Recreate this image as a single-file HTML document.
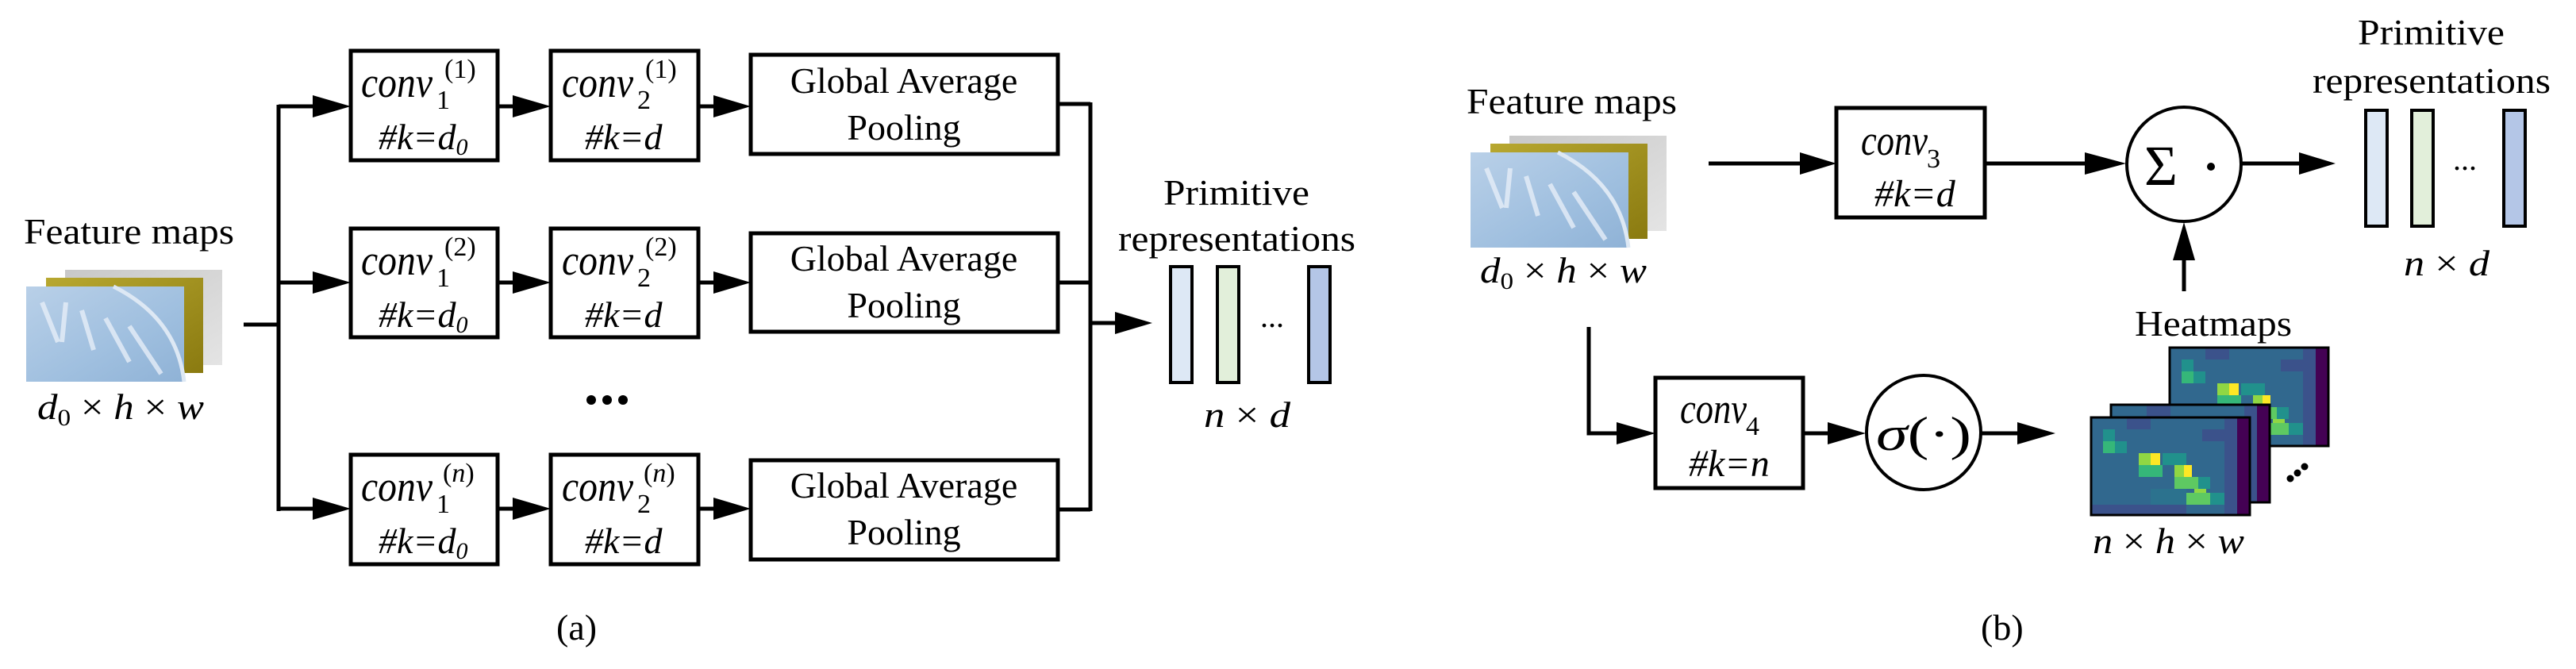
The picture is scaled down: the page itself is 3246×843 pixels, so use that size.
<!DOCTYPE html>
<html><head><meta charset="utf-8"><style>
html,body{margin:0;padding:0;background:#fff;}
svg{display:block;font-family:"Liberation Serif","DejaVu Serif","Times New Roman",serif;}
svg text{font-family:"Liberation Serif","DejaVu Serif","Times New Roman",serif;fill:#000;}
.it{font-style:italic;}
</style></head><body>
<svg width="3246" height="843" viewBox="0 0 3246 843" xmlns="http://www.w3.org/2000/svg" font-family="Liberation Serif, DejaVu Serif, serif">
<defs>
<linearGradient id="gb" x1="0" y1="0" x2="1" y2="1"><stop offset="0" stop-color="#b9d0e8"/><stop offset="0.6" stop-color="#9fbfdf"/><stop offset="1" stop-color="#8fb2d6"/></linearGradient>
<linearGradient id="gy" x1="0" y1="0" x2="1" y2="1"><stop offset="0" stop-color="#b8a830"/><stop offset="1" stop-color="#8a7a10"/></linearGradient>
<linearGradient id="gg" x1="0" y1="0" x2="1" y2="1"><stop offset="0" stop-color="#c8c8c8"/><stop offset="1" stop-color="#e4e4e4"/></linearGradient>
<g id="fm">
<rect x="49" y="-21" width="198" height="120" fill="url(#gg)"/>
<rect x="25" y="-11" width="198" height="120" fill="url(#gy)"/>
<rect x="0" y="0" width="199" height="120" fill="url(#gb)"/>
<path d="M20 20 L40 70 M50 20 L45 70 M70 30 L85 80 M100 40 L130 95 M130 50 L170 110" stroke="#e6eef8" stroke-width="6" fill="none" opacity="0.8"/>
<path d="M110 0 Q190 40 199 120" stroke="#dde8f4" stroke-width="5" fill="none"/>
</g>
<g id="hm" stroke="none">
<rect width="200" height="124" fill="#31688e"/>
<rect x="184" y="0" width="16" height="124" fill="#440154"/>
<rect x="168" y="0" width="16" height="124" fill="#3b528b"/>
<rect x="15" y="15" width="15" height="15" fill="#21918c"/>
<rect x="15" y="30" width="15" height="15" fill="#35b779"/>
<rect x="30" y="30" width="15" height="15" fill="#21918c"/>
<rect x="60" y="45" width="15" height="15" fill="#90d743"/>
<rect x="75" y="45" width="12" height="15" fill="#fde725"/>
<rect x="60" y="60" width="30" height="15" fill="#35b779"/>
<rect x="90" y="45" width="30" height="15" fill="#21918c"/>
<rect x="105" y="60" width="12" height="15" fill="#90d743"/>
<rect x="117" y="60" width="10" height="15" fill="#fde725"/>
<rect x="105" y="75" width="30" height="15" fill="#5ec962"/>
<rect x="135" y="75" width="15" height="15" fill="#21918c"/>
<rect x="130" y="90" width="15" height="15" fill="#90d743"/>
<rect x="120" y="95" width="30" height="15" fill="#5ec962"/>
<rect x="45" y="0" width="30" height="15" fill="#3b528b"/>
<rect x="140" y="15" width="30" height="15" fill="#3b528b"/>
<rect x="0" y="110" width="120" height="14" fill="#3b528b"/>
<rect x="75" y="90" width="45" height="20" fill="#2c728e"/>
<rect x="150" y="95" width="18" height="15" fill="#21918c"/>
</g>
</defs>

<text x="30" y="307" font-size="46" textLength="265" lengthAdjust="spacingAndGlyphs">Feature maps</text>
<use href="#fm" x="33" y="361"/>
<text class="it" x="47" y="528" font-size="46" textLength="210" lengthAdjust="spacingAndGlyphs">d<tspan font-size="30" dy="8" font-style="normal">0</tspan><tspan dy="-8" font-style="normal"> × </tspan>h<tspan font-style="normal"> × </tspan>w</text>

<g stroke="#000" stroke-width="5" fill="none">
<path d="M307 409 H353 M351 132 V644 M351 134 H400 M351 356 H400 M351 641 H400"/>
<path d="M627 134 H650 M880 134 H903 M627 356 H650 M880 356 H903 M627 641 H650 M880 641 H903"/>
<path d="M1333 131 H1374 M1333 356 H1374 M1333 642 H1374 M1374 129 V644 M1374 407 H1410"/>
<rect x="442" y="64" width="185" height="138"/><rect x="694" y="64" width="186" height="138"/>
<rect x="442" y="288" width="185" height="137"/><rect x="694" y="288" width="186" height="137"/>
<rect x="442" y="573" width="185" height="138"/><rect x="694" y="573" width="186" height="138"/>
<rect x="946" y="69" width="387" height="125"/><rect x="946" y="294" width="387" height="124"/><rect x="946" y="580" width="387" height="125"/>
</g>
<g fill="#000">
<path d="M394 120 L442 134 L394 148Z M646 120 L694 134 L646 148Z M899 120 L946 134 L899 148Z"/>
<path d="M394 342 L442 356 L394 370Z M646 342 L694 356 L646 370Z M899 342 L946 356 L899 370Z"/>
<path d="M394 627 L442 641 L394 655Z M646 627 L694 641 L646 655Z M899 627 L946 641 L899 655Z"/>
<path d="M1405 393 L1452 407 L1405 421Z"/>
<circle cx="745" cy="504" r="6"/><circle cx="765" cy="504" r="6"/><circle cx="785" cy="504" r="6"/>
</g>

<g>
<text class="it" x="455" y="122" font-size="54" textLength="90" lengthAdjust="spacingAndGlyphs">conv</text><text x="550" y="137" font-size="34">1</text><text x="560" y="98" font-size="34">(1)</text>
<text class="it" x="477" y="188" font-size="46">#k=d<tspan font-size="30" dy="7">0</tspan></text>
<text class="it" x="708" y="122" font-size="54" textLength="90" lengthAdjust="spacingAndGlyphs">conv</text><text x="803" y="137" font-size="34">2</text><text x="813" y="98" font-size="34">(1)</text>
<text class="it" x="737" y="188" font-size="46">#k=d</text>

<text class="it" x="455" y="346" font-size="54" textLength="90" lengthAdjust="spacingAndGlyphs">conv</text><text x="550" y="361" font-size="34">1</text><text x="560" y="322" font-size="34">(2)</text>
<text class="it" x="477" y="412" font-size="46">#k=d<tspan font-size="30" dy="7">0</tspan></text>
<text class="it" x="708" y="346" font-size="54" textLength="90" lengthAdjust="spacingAndGlyphs">conv</text><text x="803" y="361" font-size="34">2</text><text x="813" y="322" font-size="34">(2)</text>
<text class="it" x="737" y="412" font-size="46">#k=d</text>

<text class="it" x="455" y="631" font-size="54" textLength="90" lengthAdjust="spacingAndGlyphs">conv</text><text x="550" y="646" font-size="34">1</text><text x="558" y="607" font-size="34">(<tspan class="it">n</tspan>)</text>
<text class="it" x="477" y="697" font-size="46">#k=d<tspan font-size="30" dy="7">0</tspan></text>
<text class="it" x="708" y="631" font-size="54" textLength="90" lengthAdjust="spacingAndGlyphs">conv</text><text x="803" y="646" font-size="34">2</text><text x="811" y="607" font-size="34">(<tspan class="it">n</tspan>)</text>
<text class="it" x="737" y="697" font-size="46">#k=d</text>
</g>

<g font-size="46" text-anchor="middle">
<text x="1139" y="117">Global Average</text><text x="1139" y="176">Pooling</text>
<text x="1139" y="341">Global Average</text><text x="1139" y="400">Pooling</text>
<text x="1139" y="627">Global Average</text><text x="1139" y="686">Pooling</text>
</g>

<text x="1466" y="258" font-size="46" textLength="184" lengthAdjust="spacingAndGlyphs">Primitive</text>
<text x="1409" y="316" font-size="46" textLength="299" lengthAdjust="spacingAndGlyphs">representations</text>
<g stroke="#000" stroke-width="4">
<rect x="1475" y="336" width="27" height="146" fill="#dde8f5"/>
<rect x="1534" y="336" width="27" height="146" fill="#e2efda"/>
<rect x="1649" y="336" width="27" height="146" fill="#b4c6e7"/>
</g>
<text x="1588" y="412" font-size="40">...</text>
<text class="it" x="1517" y="538" font-size="46" textLength="109" lengthAdjust="spacingAndGlyphs">n<tspan font-style="normal"> × </tspan>d</text>
<text x="701" y="806" font-size="46">(a)</text>

<text x="1848" y="143" font-size="46" textLength="265" lengthAdjust="spacingAndGlyphs">Feature maps</text>
<use href="#fm" x="1853" y="192"/>
<text class="it" x="1865" y="356" font-size="46" textLength="210" lengthAdjust="spacingAndGlyphs">d<tspan font-size="30" dy="8" font-style="normal">0</tspan><tspan dy="-8" font-style="normal"> × </tspan>h<tspan font-style="normal"> × </tspan>w</text>

<g stroke="#000" stroke-width="5" fill="none">
<path d="M2153 206 H2280 M2501 206 H2640 M2825 206 H2905 M2752 367 V320"/>
<path d="M2002 412 V546 H2045 M2272 546 H2310 M2497 546 H2550"/>
<rect x="2314" y="136" width="187" height="138"/>
<rect x="2086" y="476" width="186" height="139"/>
<circle cx="2752" cy="207" r="72" stroke-width="4"/>
<circle cx="2424" cy="545" r="72" stroke-width="4"/>
</g>
<g fill="#000">
<path d="M2268 192 L2314 206 L2268 220Z M2627 192 L2679 206 L2627 220Z M2897 192 L2943 206 L2897 220Z"/>
<path d="M2738 328 L2752 280 L2766 328Z"/>
<path d="M2037 532 L2086 546 L2037 560Z M2303 532 L2351 546 L2303 560Z M2542 532 L2590 546 L2542 560Z"/>
<circle cx="2886" cy="603" r="4.5"/><circle cx="2895" cy="596" r="4.5"/><circle cx="2904" cy="588" r="4.5"/>
</g>
<text class="it" x="2345" y="195" font-size="54" textLength="84" lengthAdjust="spacingAndGlyphs">conv</text><text x="2428" y="211" font-size="34">3</text>
<text class="it" x="2362" y="260" font-size="48">#k=d</text>
<text class="it" x="2117" y="533" font-size="54" textLength="84" lengthAdjust="spacingAndGlyphs">conv</text><text x="2200" y="548" font-size="34">4</text>
<text class="it" x="2128" y="600" font-size="48">#k=n</text>
<text x="2702" y="233" font-size="72">Σ</text><circle cx="2786" cy="210" r="5" fill="#000"/>
<text x="2364" y="567" font-size="60" textLength="120" lengthAdjust="spacingAndGlyphs"><tspan class="it">σ</tspan>(·)</text>

<text x="2971" y="56" font-size="46" textLength="185" lengthAdjust="spacingAndGlyphs">Primitive</text>
<text x="2914" y="117" font-size="46" textLength="300" lengthAdjust="spacingAndGlyphs">representations</text>
<g stroke="#000" stroke-width="4">
<rect x="2981" y="139" width="27" height="146" fill="#dde8f5"/>
<rect x="3039" y="139" width="27" height="146" fill="#e2efda"/>
<rect x="3155" y="139" width="27" height="146" fill="#b4c6e7"/>
</g>
<text x="3091" y="214" font-size="40">...</text>
<text class="it" x="3029" y="347" font-size="46" textLength="108" lengthAdjust="spacingAndGlyphs">n<tspan font-style="normal"> × </tspan>d</text>

<text x="2690" y="423" font-size="46" textLength="198" lengthAdjust="spacingAndGlyphs">Heatmaps</text>
<use href="#hm" x="2734" y="438"/><rect x="2734" y="438" width="200" height="124" fill="none" stroke="#000" stroke-width="3"/>
<use href="#hm" x="2660" y="510"/><rect x="2660" y="510" width="200" height="123" fill="none" stroke="#000" stroke-width="3"/>
<use href="#hm" x="2635" y="526"/><rect x="2635" y="526" width="200" height="123" fill="none" stroke="#000" stroke-width="3"/>
<text class="it" x="2637" y="697" font-size="46" textLength="191" lengthAdjust="spacingAndGlyphs">n<tspan font-style="normal"> × </tspan>h<tspan font-style="normal"> × </tspan>w</text>
<text x="2496" y="806" font-size="46">(b)</text>
</svg>
</body></html>
